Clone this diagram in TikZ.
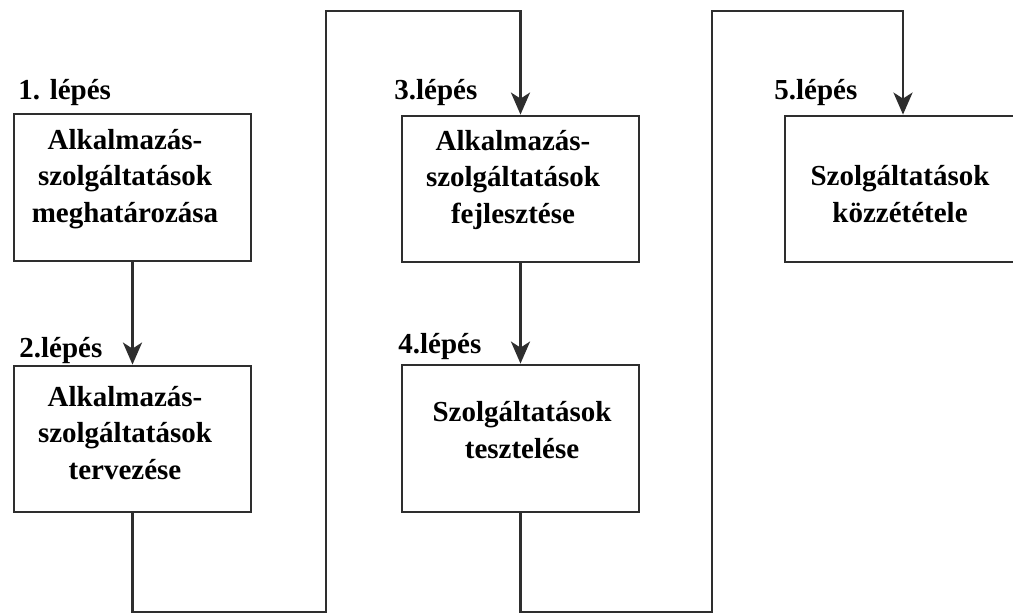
\documentclass[tikz,border=0pt]{standalone}
\usepackage{fontspec}
\setmainfont{Liberation Serif}
\usetikzlibrary{arrows.meta}
\begin{document}
\begin{tikzpicture}[x=1pt,y=-1pt,
  line width=2.8pt,
  stepbox/.style={draw=black!82, line width=2.8pt, rectangle, inner sep=0pt},
  boxtext/.style={align=center, inner sep=0pt, font=\bfseries\fontsize{29}{36.5}\selectfont},
  steplabel/.style={anchor=base west, inner sep=0pt, font=\bfseries\fontsize{29}{36}\selectfont},
  flow/.style={draw=black!82, line width=2.8pt, line join=miter},
  arr/.style={flow, -{Stealth[width=19pt,length=22pt,inset=6pt]}}]
\useasboundingbox (0,0) rectangle (1013,615);

% process boxes
\node[stepbox, minimum width=237pt, minimum height=147pt] (b1) at (132.5,187.5) {};
\node[stepbox, minimum width=237pt, minimum height=146pt] (b2) at (132.5,439) {};
\node[stepbox, minimum width=237pt, minimum height=146pt] (b3) at (520.5,189) {};
\node[stepbox, minimum width=237pt, minimum height=147pt] (b4) at (520.5,438.5) {};
\node[stepbox, minimum width=240pt, minimum height=146pt] (b5) at (905,189) {};

% box texts
\node[boxtext] (t1) at (125,179) {Alkalmazás-\\szolgáltatások\\meghatározása};
\node[boxtext] (t2) at (125,433) {Alkalmazás-\\szolgáltatások\\tervezése};
\node[boxtext] (t3) at (513,180) {Alkalmazás-\\szolgáltatások\\fejlesztése};
\node[boxtext] (t4) at (522,430) {Szolgáltatások\\tesztelése};
\node[boxtext] (t5) at (900,194) {Szolgáltatások\\közzététele};

% step labels
\node[steplabel] (l1) at (17,100) {1. lépés};
\node[steplabel] (l2) at (18,357) {2.lépés};
\node[steplabel] (l3) at (393,100) {3.lépés};
\node[steplabel] (l4) at (397,353) {4.lépés};
\node[steplabel] (l5) at (773,100) {5.lépés};

% routing corners
\coordinate (c1) at (132.5,612);
\coordinate (c2) at (326,612);
\coordinate (c3) at (326,11);
\coordinate (c4) at (520.5,11);
\coordinate (c5) at (520.5,612);
\coordinate (c6) at (712,612);
\coordinate (c7) at (712,11);
\coordinate (c8) at (903,11);

% connectors
\draw[arr] (b1.south) -- (b2.north);
\draw[arr] (b2.south) -- (c1) -- (c2) -- (c3) -- (c4) -- (b3.north);
\draw[arr] (b3.south) -- (b4.north);
\draw[arr] (b4.south) -- (c5) -- (c6) -- (c7) -- (c8) -- (c8 |- b5.north);
\end{tikzpicture}
\end{document}
